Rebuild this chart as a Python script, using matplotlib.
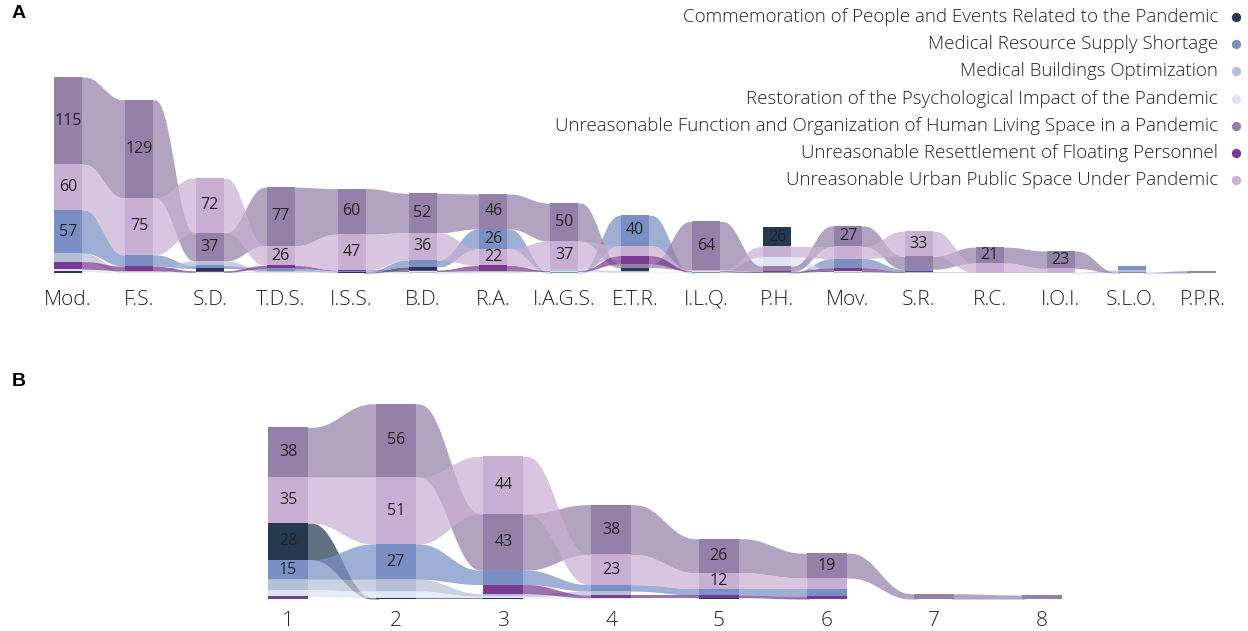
import numpy as np
import matplotlib
matplotlib.use("Agg")
import matplotlib.pyplot as plt

plt.rcParams['font.family'] = ['Open Sans', 'DejaVu Sans']

series = [
    "Commemoration of People and Events Related to the Pandemic",
    "Medical Resource Supply Shortage",
    "Medical Buildings Optimization",
    "Restoration of the Psychological Impact of the Pandemic",
    "Unreasonable Function and Organization of Human Living Space in a Pandemic",
    "Unreasonable Resettlement of Floating Personnel",
    "Unreasonable Urban Public Space Under Pandemic",
]
colors = ["#253a50", "#7a8fc4", "#b5c0d7", "#dde5f5", "#9580aa", "#7a3a8f", "#c9afd3"]

cats_a = ["Mod.", "F.S.", "S.D.", "T.D.S.", "I.S.S.", "B.D.", "R.A.", "I.A.G.S.", "E.T.R.",
          "I.L.Q.", "P.H.", "Mov.", "S.R.", "R.C.", "I.O.I.", "S.L.O.", "P.P.R."]
# one list per series, values per category (panel A)
comm_a     = [2, 0, 3, 0, 1, 4, 0, 0, 4, 0, 26, 0, 0, 0, 0, 0, 0]
supply_a   = [57, 15, 4, 3, 1, 9, 26, 1, 40, 1, 1, 12, 3, 0, 0, 5, 0]
build_a    = [11, 2, 6, 2, 1, 1, 2, 2, 2, 0, 0, 1, 1, 1, 1, 3, 0]
restore_a  = [3, 1, 1, 1, 0, 1, 1, 1, 1, 1, 12, 1, 0, 0, 0, 0, 0]
function_a = [115, 129, 37, 77, 60, 52, 46, 50, 5, 64, 7, 27, 17, 21, 23, 1, 3]
resettle_a = [10, 6, 2, 4, 1, 2, 7, 1, 11, 1, 1, 5, 1, 0, 0, 0, 0]
urban_a    = [60, 75, 72, 26, 47, 36, 22, 37, 13, 1, 14, 16, 33, 12, 5, 0, 0]

cats_b = ["1", "2", "3", "4", "5", "6", "7", "8"]
comm_b     = [28, 1, 1, 0, 1, 0, 0, 0]
supply_b   = [15, 27, 11, 5, 5, 6, 0, 0]
build_b    = [8, 9, 2, 3, 0, 0, 0, 0]
restore_b  = [5, 5, 1, 1, 0, 0, 0, 0]
function_b = [38, 56, 43, 38, 26, 19, 4, 3]
resettle_b = [2, 0, 7, 2, 2, 2, 0, 0]
urban_b    = [35, 51, 44, 23, 12, 8, 0, 0]

W, H = 1248, 631


def stack(vals):
    vals = np.array(vals, dtype=float)  # shape (series, cats)
    ns, nc = vals.shape
    bot = np.zeros_like(vals)
    for j in range(nc):
        order = sorted(range(ns), key=lambda k: vals[k, j])  # smallest at bottom
        b = 0.0
        for k in order:
            bot[k, j] = b
            b += vals[k, j]
    return vals, bot


def ribbon_chart(ax, vals, cats, bar_w, px_per_unit):
    vals, bot = stack(vals)
    ns, nc = vals.shape
    t = np.linspace(0, 1, 80)
    s = t ** 3 * (10 - 15 * t + 6 * t ** 2)
    ov = 0.03  # tuck ribbon ends under the bars
    for k in range(ns):
        for j in range(nc - 1):
            # no ribbon when the series is missing on either side
            if vals[k, j] == 0 or vals[k, j + 1] == 0:
                continue
            x0, x1 = j + bar_w / 2, j + 1 - bar_w / 2
            xs = x0 + (x1 - x0) * t
            lo = bot[k, j] + (bot[k, j + 1] - bot[k, j]) * s
            hi = (bot[k, j] + vals[k, j]) + ((bot[k, j + 1] + vals[k, j + 1]) - (bot[k, j] + vals[k, j])) * s
            xs = np.concatenate([[x0 - ov], xs, [x1 + ov]])
            lo = np.concatenate([[lo[0]], lo, [lo[-1]]])
            hi = np.concatenate([[hi[0]], hi, [hi[-1]]])
            ax.fill_between(xs, lo, hi, color=colors[k], alpha=0.72, lw=0)
    for k in range(ns):
        ax.bar(np.arange(nc), vals[k], bottom=bot[k], width=bar_w, color=colors[k], lw=0)
        for j in range(nc):
            if vals[k, j] * px_per_unit >= 15:
                ax.text(j, bot[k, j] + vals[k, j] / 2, "%d" % vals[k, j], ha="center", va="center",
                        fontsize=11.5, color="#252423")
    ax.set_xticks(np.arange(nc))
    ax.set_xticklabels(cats, fontsize=15, fontweight="light", color="#252423")
    ax.set_yticks([])
    for sp in ax.spines.values():
        sp.set_visible(False)


fig = plt.figure(figsize=(W / 100, H / 100), dpi=100)

# panel A: baseline at 273 px, top at 60 px, columns 68 + 70.9 i
pa = 0.76
ax_a = fig.add_axes([0, (H - 273) / H, 1, (273 - 60) / H])
ribbon_chart(ax_a, [comm_a, supply_a, build_a, restore_a, function_a, resettle_a, urban_a],
             cats_a, 28 / 70.9, pa)
ax_a.set_xlim(-68 / 70.9, (W - 68) / 70.9)
ax_a.set_ylim(0, (273 - 60) / pa)
ax_a.tick_params(axis="x", length=0, pad=12)

# panel B: baseline at 599 px, columns 288 + 107.7 i
pb = 1.31
ax_b = fig.add_axes([0, (H - 599) / H, 1, (599 - 390) / H])
ribbon_chart(ax_b, [comm_b, supply_b, build_b, restore_b, function_b, resettle_b, urban_b],
             cats_b, 40 / 107.7, pb)
ax_b.set_xlim(-288 / 107.7, (W - 288) / 107.7)
ax_b.set_ylim(0, (599 - 390) / pb)
ax_b.tick_params(axis="x", length=0, pad=9)

# legend and panel letters in pixel coordinates
ov = fig.add_axes([0, 0, 1, 1], facecolor="none")
ov.set_xlim(0, W)
ov.set_ylim(H, 0)
ov.axis("off")
for i, (name, c) in enumerate(zip(series, colors)):
    y = 17 + 27.2 * i
    ov.text(1218, y, name, ha="right", va="center", fontsize=13.5, fontweight="light", color="#252423")
    ov.scatter([1236], [y], s=45, color=c, lw=0)
ov.text(12, 14, "A", fontsize=14, fontweight="bold", family="Liberation Sans", va="center")
ov.text(12, 381, "B", fontsize=14, fontweight="bold", family="Liberation Sans", va="center")

fig.savefig("out.png", dpi=100)
